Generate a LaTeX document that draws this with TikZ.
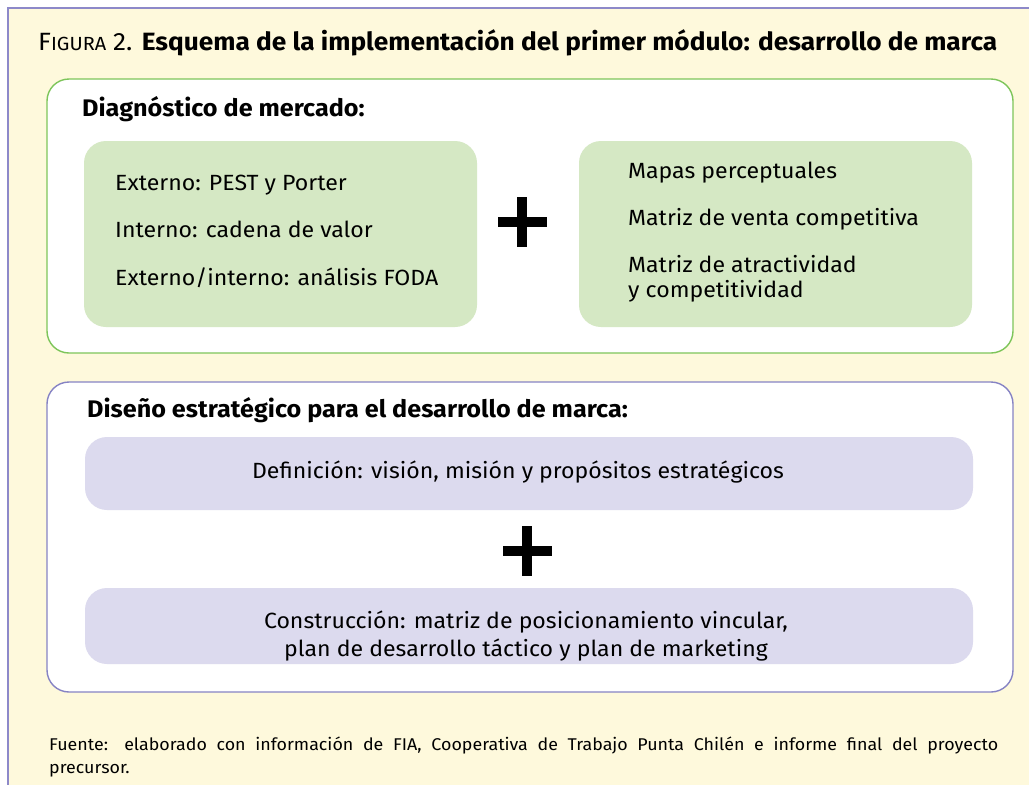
\documentclass[tikz,border=0pt]{standalone}
\usepackage{fontspec}
\setmainfont[FakeStretch=1.05]{Fira Sans}
\definecolor{bgyellow}{HTML}{FEF9DC}
\definecolor{framepurple}{HTML}{8D89C9}
\definecolor{greenline}{HTML}{7DC55A}
\definecolor{greenfill}{HTML}{D5E8C4}
\definecolor{purpleline}{HTML}{8683C4}
\definecolor{purplefill}{HTML}{DCDAEE}
\tikzset{
  outerbox/.style={draw, fill=white, line width=1.4pt, rounded corners=22pt, inner sep=0pt},
  greenbox/.style={outerbox, draw=greenline},
  purplebox/.style={outerbox, draw=purpleline},
  gfill/.style={fill=greenfill, rounded corners=22pt, inner sep=0pt},
  pfill/.style={fill=purplefill, rounded corners=22pt, inner sep=0pt},
  body/.style={font=\fontsize{22}{24}\selectfont, inner sep=0pt, anchor=base west},
  bodyc/.style={font=\fontsize{22}{28}\selectfont, inner sep=0pt, anchor=base},
  heading/.style={font=\fontsize{24}{26}\selectfont\bfseries, inner sep=0pt, anchor=base west},
  plusbar/.style={fill=black},
}
\begin{document}
\begin{tikzpicture}[x=1pt,y=-1pt]
\useasboundingbox (0,0) rectangle (1029,785);
\fill[bgyellow] (8,8) rectangle (1029,785);
\draw[framepurple, line width=1.2pt] (8,785) -- (8,8) -- (1029,8);

% title
\node[inner sep=0pt, anchor=base west] (title) at (38,50)
  {\fontsize{25}{28}\selectfont F{\fontsize{19}{22}\selectfont IGURA} 2. \bfseries Esquema de la implementación del primer módulo: desarrollo de marca};

% diagnostic block
\node[greenbox, minimum width=966pt, minimum height=274pt] (diag) at (530,216) {};
\node[heading] (diagh) at (82,116) {Diagnóstico de mercado:};
\node[gfill, minimum width=393pt, minimum height=186pt] (left) at (280.5,234) {};
\node[gfill, minimum width=393pt, minimum height=186pt] (right) at (775.5,234) {};
\node[body] (l1) at (115,190) {Externo: PEST y Porter};
\node[body] (l2) at (115,237) {Interno: cadena de valor};
\node[body] (l3) at (115,285) {Externo/interno: análisis FODA};
\node[body] (r1) at (628,178) {Mapas perceptuales};
\node[body] (r2) at (628,225) {Matriz de venta competitiva};
\node[body] (r3) at (628,272) {Matriz de atractividad};
\node[body] (r4) at (628,297) {y competitividad};
\coordinate (plus1) at (522,222);
\fill[plusbar] ([xshift=-24.5pt, yshift=5pt]plus1) rectangle ([xshift=24.5pt, yshift=-5pt]plus1);
\fill[plusbar] ([xshift=-5pt, yshift=25pt]plus1) rectangle ([xshift=5pt, yshift=-25pt]plus1);

% strategic design block
\node[purplebox, minimum width=966pt, minimum height=310pt] (dis) at (530,537) {};
\node[heading] (dish) at (87,417) {Diseño estratégico para el desarrollo de marca:};
\node[pfill, minimum width=888pt, minimum height=73pt] (def) at (529,473.5) {};
\node[pfill, minimum width=888pt, minimum height=76pt] (con) at (529,626) {};
\node[bodyc] (deft) at (518,478) {Definición: visión, misión y propósitos estratégicos};
\node[bodyc] (cont1) at (526,628) {Construcción: matriz de posicionamiento vincular,};
\node[bodyc] (cont2) at (526,656) {plan de desarrollo táctico y plan de marketing};
\coordinate (plus2) at (527,551);
\fill[plusbar] ([xshift=-24.5pt, yshift=5pt]plus2) rectangle ([xshift=24.5pt, yshift=-5pt]plus2);
\fill[plusbar] ([xshift=-5pt, yshift=25pt]plus2) rectangle ([xshift=5pt, yshift=-25pt]plus2);

% footer
\node[inner sep=0pt, anchor=base west, text width=949pt, align=justify,
  font=\fontsize{17}{23}\selectfont] (foot) at (49,750)
  {Fuente: elaborado con información de FIA, Cooperativa de Trabajo Punta Chilén e informe final del proyecto\linebreak precursor.};
\end{tikzpicture}
\end{document}
